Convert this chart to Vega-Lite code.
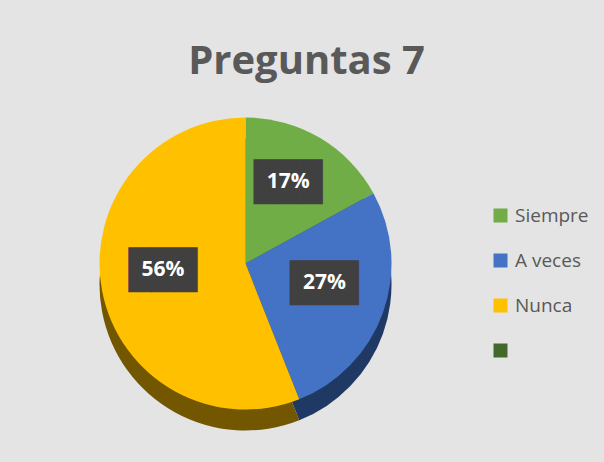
{
  "$schema": "https://vega.github.io/schema/vega-lite/v6.json",
  "width": 604,
  "height": 462,
  "autosize": {"type": "fit", "contains": "padding"},
  "padding": {"left": 0, "top": 42, "right": 15, "bottom": 12},
  "background": "#e4e4e4",
  "title": {
    "text": "Preguntas 7",
    "font": "Open Sans",
    "fontSize": 40,
    "fontWeight": "bold",
    "color": "#595959",
    "anchor": "middle",
    "frame": "bounds",
    "offset": 0,
    "dx": 12,
    "dy": 5
  },
  "data": {
    "values": [
      {"respuesta": "Siempre", "valor": 0.17, "orden": 1},
      {"respuesta": "A veces", "valor": 0.27, "orden": 2},
      {"respuesta": "Nunca", "valor": 0.56, "orden": 3}
    ]
  },
  "config": {"view": {"stroke": null}},
  "layer": [
    {
      "mark": {"type": "arc", "outerRadius": 146, "yOffset": 21},
      "encoding": {
        "theta": {"field": "valor", "type": "quantitative", "stack": true},
        "order": {"field": "orden", "type": "quantitative"},
        "color": {
          "field": "respuesta",
          "type": "nominal",
          "scale": {"domain": ["Siempre", "A veces", "Nunca"], "range": ["#3e6428", "#1f3864", "#735700"]},
          "legend": null
        }
      }
    },
    {
      "mark": {"type": "arc", "outerRadius": 146},
      "encoding": {
        "theta": {"field": "valor", "type": "quantitative", "stack": true},
        "order": {"field": "orden", "type": "quantitative"},
        "color": {
          "field": "respuesta",
          "type": "nominal",
          "scale": {"domain": ["Siempre", "A veces", "Nunca", ""], "range": ["#70ad47", "#4472c4", "#ffc000", "#43682b"]},
          "legend": {
            "title": " ",
            "titleFontSize": 10,
            "titlePadding": 119,
            "orient": "right",
            "offset": 0,
            "symbolType": "square",
            "symbolSize": 196,
            "symbolStrokeWidth": 0,
            "labelFont": "Open Sans",
            "labelFontSize": 19,
            "labelColor": "#595959",
            "rowPadding": 25,
            "labelOffset": 5
          }
        }
      }
    },
    {
      "mark": {"type": "text", "radius": 84, "font": "DejaVu Sans Mono", "fontSize": 38, "color": "#404040", "align": "center", "baseline": "middle", "dy": -7},
      "encoding": {
        "theta": {"field": "valor", "type": "quantitative", "stack": true},
        "order": {"field": "orden", "type": "quantitative"},
        "detail": {"field": "respuesta", "type": "nominal"},
        "text": {"value": "███"}
      }
    },
    {
      "mark": {"type": "text", "radius": 84, "font": "Open Sans", "fontSize": 21, "fontWeight": "bold", "color": "white", "align": "center", "baseline": "middle", "dy": -9},
      "encoding": {
        "theta": {"field": "valor", "type": "quantitative", "stack": true},
        "order": {"field": "orden", "type": "quantitative"},
        "detail": {"field": "respuesta", "type": "nominal"},
        "text": {"field": "valor", "type": "quantitative", "format": ".0%"}
      }
    }
  ],
  "resolve": {"scale": {"color": "independent"}}
}
